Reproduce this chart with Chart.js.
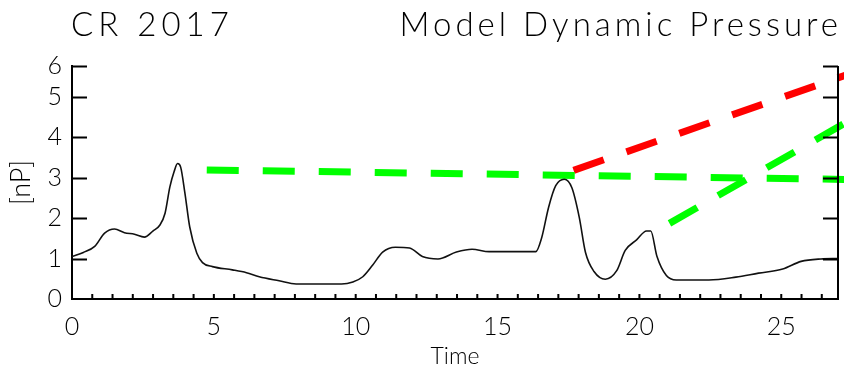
<!DOCTYPE html>
<html lang="en">
<head>
  <meta charset="UTF-8" />
  <title>CR 2017 Model Dynamic Pressure</title>
  <script src="https://cdn.jsdelivr.net/npm/chart.js"></script>
  <style>
    html, body { margin: 0; padding: 0; background: #fff; }
    #wrap { position: relative; width: 844px; height: 370px; overflow: hidden; }
    .ttl { position: absolute; top: 3px; font-family: Lato, sans-serif; font-weight: 300;
           font-size: 33px; line-height: 40px; color: #000; white-space: nowrap; }
    #ttlLeft { left: 71px; letter-spacing: 5px; }
    #ttlRight { right: 2px; letter-spacing: 4px; }
  </style>
</head>
<body>
  <div id="wrap">
    <div class="ttl" id="ttlLeft">CR 2017</div>
    <div class="ttl" id="ttlRight">Model Dynamic Pressure</div>
    <canvas id="chart" width="844" height="370"></canvas>
  </div>

  <script>
    // Model dynamic pressure (black curve)
    const timeValues = [0, 0.4, 0.8, 1.15, 1.5, 1.85, 2.2, 2.55, 2.85, 3.1, 3.28, 3.45, 3.6, 3.72, 3.83, 3.98, 4.15, 4.4, 4.6, 4.95,
      5.65, 6.15, 6.6, 7.3, 7.9, 8.7, 9.5, 9.9, 10.25, 10.6, 10.95, 11.4, 11.9, 12.35, 12.9, 13.55, 14.1, 14.7, 16.35, 16.55,
      16.8, 17.05, 17.35, 17.62, 17.88, 18.1, 18.4, 18.8, 19.2, 19.5, 19.9, 20.25, 20.4, 20.62, 20.95, 21.3, 22.45, 23.4, 24.2,
      25.05, 25.7, 26.4, 27];
    const pressureValues = [1.05, 1.15, 1.3, 1.63, 1.73, 1.64, 1.6, 1.53, 1.68, 1.83, 2.12, 2.77, 3.15, 3.35, 3.26, 2.62, 1.78, 1.13, 0.9, 0.8,
      0.72, 0.65, 0.55, 0.45, 0.37, 0.37, 0.37, 0.42, 0.55, 0.84, 1.16, 1.28, 1.26, 1.05, 0.99, 1.16, 1.23, 1.17, 1.17, 1.5,
      2.27, 2.8, 2.96, 2.75, 2.02, 1.15, 0.68, 0.49, 0.7, 1.2, 1.46, 1.68, 1.68, 1.05, 0.58, 0.47, 0.47, 0.54, 0.64,
      0.74, 0.93, 0.99, 1.0];

    // dashed guide lines (start / end points)
    const greenFlatTime = [4.75, 27.3];
    const greenFlatValue = [3.19, 2.955];
    const redTime = [17.68, 27.3];
    const redValue = [3.18, 5.54];
    const greenRiseTime = [21.06, 27.3];
    const greenRiseValue = [1.87, 4.37];

    // axes
    const xMin = 0, xMax = 27;
    const xTickStep = 5 / 7;
    const xLabelEvery = 7;
    const yMin = 0, yMax = 5.76;
    const yTickValues = [0, 1, 2, 3, 4, 5, 5.76];
    const yTickLabels = ['0', '1', '2', '3', '4', '5', '6'];

    const toPoints = (xs, ys) => xs.map((x, i) => ({ x: x, y: ys[i] }));

    const tickFont = { family: 'Lato, sans-serif', size: 25, weight: 300 };

    // IDL style: ticks pointing inward, right axis line
    const innerTicks = {
      id: 'innerTicks',
      afterDraw(chart) {
        const ctx = chart.ctx;
        const a = chart.chartArea;
        const xs = chart.scales.x, ys = chart.scales.y;
        ctx.save();
        ctx.strokeStyle = '#000';
        ctx.lineWidth = 2;
        ctx.beginPath();
        ctx.moveTo(a.right, a.top);
        ctx.lineTo(a.right, a.bottom);
        xs.ticks.forEach(t => {
          const px = xs.getPixelForValue(t.value);
          ctx.moveTo(px, a.bottom);
          ctx.lineTo(px, a.bottom - 5);
        });
        ys.ticks.forEach(t => {
          if (t.value === 0) return;
          const py = Math.round(ys.getPixelForValue(t.value)) + 0.5;
          ctx.moveTo(a.left, py);
          ctx.lineTo(a.left + 15, py);
          ctx.moveTo(a.right, py);
          ctx.lineTo(a.right - 15, py);
        });
        ctx.stroke();
        ctx.restore();
      }
    };

    const dash = [32, 24];

    new Chart(document.getElementById('chart').getContext('2d'), {
      type: 'line',
      data: {
        datasets: [
          {
            data: toPoints(timeValues, pressureValues),
            borderColor: '#111',
            borderWidth: 1.6,
            pointRadius: 0,
            cubicInterpolationMode: 'monotone'
          },
          {
            data: toPoints(greenFlatTime, greenFlatValue),
            borderColor: '#00ff00',
            borderWidth: 7,
            borderDash: dash,
            borderCapStyle: 'butt',
            pointRadius: 0,
            clip: false
          },
          {
            data: toPoints(greenRiseTime, greenRiseValue),
            borderColor: '#00ff00',
            borderWidth: 7,
            borderDash: dash,
            borderCapStyle: 'butt',
            pointRadius: 0,
            clip: false
          },
          {
            data: toPoints(redTime, redValue),
            borderColor: '#ff0000',
            borderWidth: 7,
            borderDash: dash,
            borderCapStyle: 'butt',
            pointRadius: 0,
            clip: false
          }
        ]
      },
      options: {
        responsive: false,
        animation: false,
        layout: { padding: { top: 66, right: 6, left: 0, bottom: 0 } },
        plugins: { legend: { display: false }, tooltip: { enabled: false } },
        scales: {
          x: {
            type: 'linear',
            min: xMin,
            max: xMax,
            afterFit: s => { s.height = 71; },
            afterBuildTicks: s => {
              const ticks = [];
              for (let i = 0; i * xTickStep <= xMax + 1e-9; i++) ticks.push({ value: i * xTickStep });
              s.ticks = ticks;
            },
            grid: { display: false, drawTicks: false },
            border: { display: true, color: '#000', width: 2 },
            ticks: {
              autoSkip: false,
              maxRotation: 0,
              padding: 13,
              color: '#000',
              font: tickFont,
              callback: (v, i) => (i % xLabelEvery === 0 ? String(Math.round(v)) : '')
            },
            title: {
              display: true,
              text: 'Time',
              color: '#000',
              font: { family: 'Lato, sans-serif', size: 23, weight: 300 },
              padding: { top: 0, bottom: 0 }
            }
          },
          y: {
            min: yMin,
            max: yMax,
            afterFit: s => { s.width = 72; },
            afterBuildTicks: s => { s.ticks = yTickValues.map(v => ({ value: v })); },
            grid: { display: false, drawTicks: false },
            border: { display: true, color: '#000', width: 2 },
            ticks: {
              padding: 10,
              color: '#000',
              font: tickFont,
              callback: (v, i) => yTickLabels[i]
            },
            title: {
              display: true,
              text: '[nP]',
              color: '#000',
              font: { family: 'Lato, sans-serif', size: 27, weight: 300 },
              padding: { top: 5, bottom: 0 }
            }
          }
        }
      },
      plugins: [innerTicks]
    });
  </script>
</body>
</html>
